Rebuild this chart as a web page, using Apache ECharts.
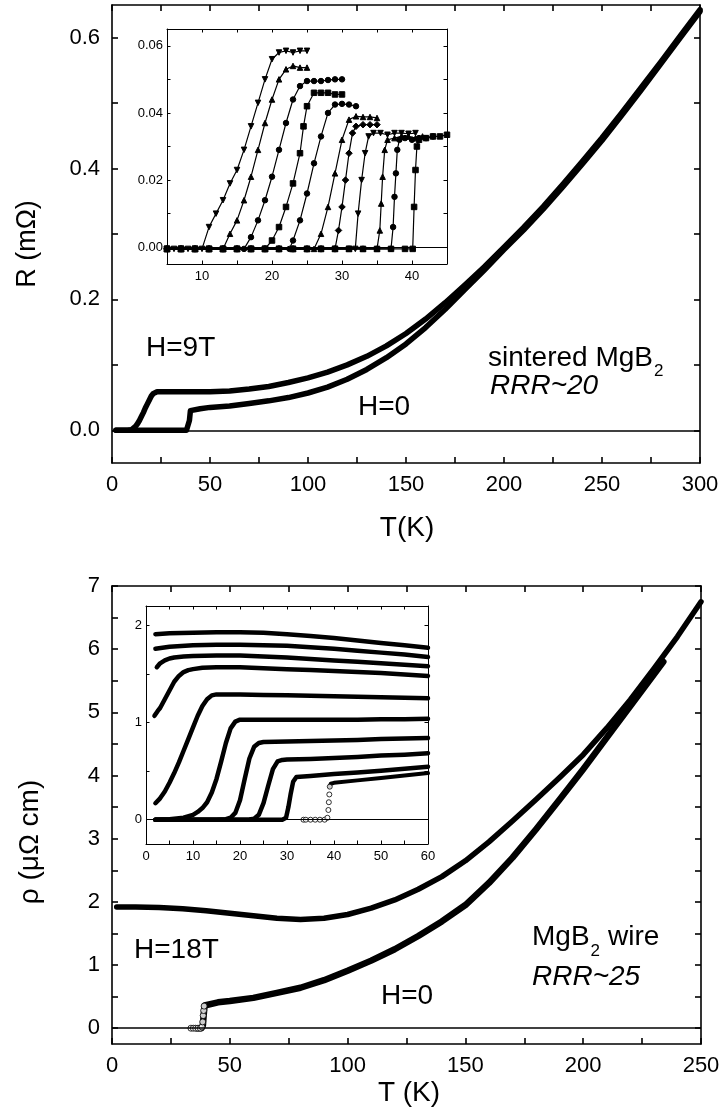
<!DOCTYPE html>
<html><head><meta charset="utf-8">
<script src="https://cdn.jsdelivr.net/npm/echarts@6/dist/echarts.min.js"></script>
<style>html,body{margin:0;padding:0;background:#fff}#c{width:723px;height:1116px}</style>
</head><body><div id="c"></div>
<script>
// ---------- TOP MAIN: sintered MgB2, R (mOhm) vs T (K) ----------
const topT_H0 = [2,5,10,15,20,25,30,35,38,39,39.5,40,41,45,50,60,70,80,90,100,110,120,130,140,150,160,170,180,190,200,210,220,230,240,250,260,270,280,290,300];
const topR_H0 = [0,0,0,0,0,0,0,0,0,0.001,0.015,0.030,0.032,0.033,0.035,0.037,0.041,0.045,0.050,0.057,0.066,0.078,0.093,0.111,0.132,0.157,0.185,0.215,0.245,0.276,0.306,0.338,0.372,0.407,0.443,0.481,0.520,0.560,0.600,0.640];
const topT_H9 = [2,5,8,10,11,12,13,14,15,16,17,18,19,20,21,22,23,25,30,40,50,60,70,80,90,100,110,120,130,140,150,160,170,180,190,200,210,220,230,240,250,260,270,280,290,300];
const topR_H9 = [0,0,0,0.001,0.003,0.006,0.010,0.015,0.021,0.027,0.034,0.040,0.046,0.052,0.056,0.058,0.059,0.059,0.059,0.059,0.059,0.060,0.063,0.067,0.073,0.080,0.089,0.100,0.113,0.129,0.148,0.170,0.195,0.222,0.250,0.280,0.310,0.342,0.376,0.411,0.447,0.485,0.524,0.563,0.603,0.643];

// ---------- TOP INSET: R (mOhm) vs T (K), 11 field curves ----------
const ti1T = [5,6,7,8,9,10,11,12,13,14,15,16,17,18,19,20,21,22,23,24,25];
const ti1R = [-0.0005,-0.0005,-0.0005,-0.0005,-0.0005,-0.0005,0.006,0.010,0.014,0.019,0.023,0.029,0.036,0.043,0.050,0.056,0.058,0.0585,0.058,0.0585,0.0585];
const ti2T = [5,7,9,11,13,14,15,16,17,18,19,20,21,22,23,24,25];
const ti2R = [-0.0005,-0.0005,-0.0005,-0.0005,-0.0005,0.004,0.008,0.014,0.021,0.029,0.037,0.044,0.050,0.053,0.054,0.0535,0.0535];
const ti3T = [5,7,9,11,13,15,16,17,18,19,20,21,22,23,24,25,26,27,28,29,30];
const ti3R = [-0.0005,-0.0005,-0.0005,-0.0005,-0.0005,-0.0005,-0.0005,0.003,0.008,0.014,0.021,0.029,0.037,0.044,0.048,0.0495,0.0495,0.0495,0.0498,0.050,0.050];
const ti4T = [5,7,9,11,13,15,17,19,20,21,22,23,24,24.5,25,26,27,28,29,30];
const ti4R = [-0.0005,-0.0005,-0.0005,-0.0005,-0.0005,-0.0005,-0.0005,-0.0005,0.002,0.006,0.012,0.019,0.028,0.036,0.042,0.046,0.046,0.046,0.0455,0.0455];
const ti5T = [5,7,9,11,13,15,17,19,21,22.5,23,24,25,26,27,28,29,30,31,32];
const ti5R = [-0.0005,-0.0005,-0.0005,-0.0005,-0.0005,-0.0005,-0.0005,-0.0005,-0.0005,-0.0005,0.002,0.008,0.016,0.025,0.033,0.040,0.0425,0.0427,0.0425,0.042];
const ti6T = [5,7,9,11,13,15,17,19,21,23,25,26,27,28,29,30,31,32,33,34,35];
const ti6R = [-0.0005,-0.0005,-0.0005,-0.0005,-0.0005,-0.0005,-0.0005,-0.0005,-0.0005,-0.0005,-0.0005,-0.0005,0.004,0.012,0.022,0.032,0.038,0.039,0.0388,0.0388,0.0385];
const ti7T = [5,7,9,11,13,15,17,19,21,23,25,27,29,29.5,30,30.5,31,31.5,32,33,34,35];
const ti7R = [-0.0005,-0.0005,-0.0005,-0.0005,-0.0005,-0.0005,-0.0005,-0.0005,-0.0005,-0.0005,-0.0005,-0.0005,-0.0005,0.005,0.012,0.020,0.028,0.034,0.036,0.0365,0.0365,0.0365];
const ti8T = [5,7,9,11,13,15,17,19,21,23,25,27,29,31,31.9,32.3,32.8,33.3,33.8,34.5,35.5,36.5,37.5,38.5,39.5,40.5];
const ti8R = [-0.0005,-0.0005,-0.0005,-0.0005,-0.0005,-0.0005,-0.0005,-0.0005,-0.0005,-0.0005,-0.0005,-0.0005,-0.0005,-0.0005,-0.0005,0.010,0.020,0.028,0.033,0.034,0.034,0.0335,0.034,0.034,0.0338,0.034];
const ti9T = [5,7,9,11,13,15,17,19,21,23,25,27,29,31,33,35,35.4,35.6,35.8,36.1,36.5,37.5,38.5,39.5,40.5,41.5];
const ti9R = [-0.0005,-0.0005,-0.0005,-0.0005,-0.0005,-0.0005,-0.0005,-0.0005,-0.0005,-0.0005,-0.0005,-0.0005,-0.0005,-0.0005,-0.0005,-0.0005,0.005,0.013,0.021,0.029,0.032,0.0325,0.033,0.033,0.0325,0.033];
const ti10T = [5,7,9,11,13,15,17,19,21,23,25,27,29,31,33,35,37,37.3,37.5,37.7,37.9,38.2,39,40,41,42,43];
const ti10R = [-0.0005,-0.0005,-0.0005,-0.0005,-0.0005,-0.0005,-0.0005,-0.0005,-0.0005,-0.0005,-0.0005,-0.0005,-0.0005,-0.0005,-0.0005,-0.0005,-0.0005,0.006,0.015,0.022,0.029,0.032,0.0325,0.032,0.0325,0.0325,0.033];
const ti11T = [5,7,9,11,13,15,17,19,21,23,25,27,29,31,33,35,37,39,40.1,40.3,40.5,40.7,41,42,43,44,45];
const ti11R = [-0.0005,-0.0005,-0.0005,-0.0005,-0.0005,-0.0005,-0.0005,-0.0005,-0.0005,-0.0005,-0.0005,-0.0005,-0.0005,-0.0005,-0.0005,-0.0005,-0.0005,-0.0005,-0.0005,0.012,0.023,0.030,0.032,0.0325,0.033,0.033,0.0335];

// ---------- BOTTOM MAIN: MgB2 wire, rho (uOhm cm) vs T (K) ----------
const botT_H0 = [36,37,38,38.6,38.9,39.3,40,45,50,60,70,80,90,100,110,120,130,140,150,160,170,180,190,200,210,220,234];
const botR_H0 = [0,0,0,0.05,0.2,0.36,0.39,0.41,0.43,0.48,0.56,0.64,0.76,0.91,1.07,1.25,1.46,1.69,1.95,2.3,2.7,3.15,3.62,4.1,4.6,5.1,5.8];
const botT_H0open = [33.5,34.5,35.5,36.5,37.5,38.2,38.5,38.7,38.9,39.1];
const botR_H0open = [0,0,0,0,0,0.02,0.1,0.2,0.28,0.35];
const botT_H18 = [2,10,20,30,40,50,60,70,80,90,100,110,120,130,140,150,160,170,180,190,200,210,220,230,240,250];
const botR_H18 = [1.92,1.92,1.91,1.89,1.86,1.82,1.78,1.74,1.72,1.74,1.8,1.9,2.03,2.2,2.4,2.65,2.95,3.28,3.62,3.97,4.33,4.75,5.2,5.69,6.2,6.75];

// ---------- BOTTOM INSET: rho vs T, 10 field curves ----------
const bi1T = [2,5,10,15,20,25,30,35,40,45,50,55,60];
const bi1R = [1.91,1.92,1.925,1.93,1.93,1.925,1.91,1.89,1.87,1.845,1.82,1.795,1.77];
const bi2T = [2,5,10,15,20,25,30,35,40,45,50,55,60];
const bi2R = [1.76,1.78,1.795,1.8,1.8,1.795,1.79,1.775,1.76,1.74,1.72,1.70,1.675];
const bi3T = [2.3,3,4,5,6,8,10,15,20,25,30,35,40,45,50,55,60];
const bi3R = [1.57,1.61,1.64,1.66,1.67,1.68,1.685,1.69,1.69,1.68,1.67,1.655,1.64,1.625,1.61,1.595,1.58];
const bi4T = [1.8,2.5,3,4,5,6,7,8,9,10,12,15,20,25,30,35,40,45,50,55,60];
const bi4R = [1.07,1.12,1.15,1.24,1.33,1.42,1.48,1.52,1.54,1.55,1.565,1.57,1.57,1.56,1.55,1.54,1.53,1.52,1.51,1.495,1.48];
const bi5T = [2,3,4,5,6,7,8,9,10,11,12,13,14,15,20,25,30,35,40,45,50,55,60];
const bi5R = [0.17,0.22,0.29,0.38,0.48,0.59,0.71,0.83,0.95,1.07,1.17,1.24,1.28,1.29,1.29,1.285,1.28,1.275,1.27,1.265,1.26,1.255,1.25];
const bi6T = [2,5,8,10,11,12,13,14,15,16,17,18,19,20,25,30,35,40,45,50,55,60];
const bi6R = [0,0.005,0.02,0.05,0.08,0.12,0.18,0.28,0.42,0.6,0.79,0.94,1.01,1.03,1.03,1.03,1.03,1.03,1.03,1.035,1.035,1.04];
const bi7T = [2,10,15,17,18,19,20,21,22,23,24,25,30,35,40,45,50,55,60];
const bi7R = [0,0,0,0.005,0.02,0.07,0.2,0.42,0.63,0.75,0.79,0.8,0.805,0.81,0.815,0.82,0.83,0.835,0.84];
const bi8T = [2,10,20,22,23,24,25,26,27,28,29,30,35,40,45,50,55,60];
const bi8R = [0,0,0,0.002,0.01,0.05,0.17,0.35,0.52,0.6,0.615,0.62,0.625,0.635,0.645,0.66,0.67,0.685];
const bi9T = [2,10,20,25,29,29.8,30.3,30.8,31.3,32,35,40,45,50,55,60];
const bi9R = [0,0,0,0,0,0.02,0.13,0.27,0.39,0.44,0.45,0.47,0.485,0.505,0.525,0.545];
const bi10T = [39.1,39.3,40,45,50,55,60];
const bi10R = [0.34,0.37,0.38,0.405,0.43,0.455,0.48];
const bi10openT = [33.5,34,35,36,37,38,38.6,38.8,38.9,39,39.1];
const bi10openR = [0,0,0,0,0,0,0.02,0.1,0.18,0.26,0.34];

// ---------- tick values / labels ----------
const topXTicks = [0,25,50,75,100,125,150,175,200,225,250,275,300];
const topXLabels = [0,50,100,150,200,250,300];
const topYTicks = [0,0.1,0.2,0.3,0.4,0.5,0.6];
const topYLabels = [0,0.2,0.4,0.6];
const tiXTicks = [10,15,20,25,30,35,40];
const tiXLabels = [10,20,30,40];
const tiYTicks = [0,0.01,0.02,0.03,0.04,0.05,0.06];
const tiYLabels = [0,0.02,0.04,0.06];
const botXTicks = [0,25,50,75,100,125,150,175,200,225,250];
const botXLabels = [0,50,100,150,200,250];
const botYTicks = [0,0.5,1,1.5,2,2.5,3,3.5,4,4.5,5,5.5,6,6.5,7];
const botYLabels = [0,1,2,3,4,5,6,7];
const biXTicks = [0,5,10,15,20,25,30,35,40,45,50,55,60];
const biXLabels = [0,10,20,30,40,50,60];
const biYTicks = [0,0.5,1,1.5,2];
const biYLabels = [0,1,2];

// ---------- build ----------
const FONT = '"Liberation Sans", Arial, Helvetica, sans-serif';
const zip = (a, b) => a.map((t, i) => [t, b[i]]);

function axis(gi, min, max, pos, ticks, labels, o) {
  return {
    type: 'value', gridIndex: gi, min: min, max: max, position: pos,
    axisLine: { show: true, onZero: false, lineStyle: { color: '#000', width: o.lw } },
    axisTick: { show: true, inside: true, length: o.tl, lineStyle: { color: '#000', width: o.lw }, customValues: ticks },
    axisLabel: { show: !!labels, customValues: labels || [], fontSize: o.fs, fontFamily: FONT, color: '#000', margin: o.margin, formatter: o.fmt },
    splitLine: { show: false }, minorTick: { show: false }
  };
}
const mainO = { lw: 1.6, tl: 6, fs: 22, margin: 11 };
const insO = { lw: 1, tl: 3.5, fs: 13, margin: 5 };
const ext = (a, b) => Object.assign({}, a, b);

const xAxis = [
  axis(0, 0, 300, 'bottom', topXTicks, topXLabels, ext(mainO, { fmt: v => String(v) })),
  axis(0, 0, 300, 'top', topXTicks, null, mainO),
  axis(1, 5, 45, 'bottom', tiXTicks, tiXLabels, ext(insO, { margin: 6, fmt: v => String(v) })),
  axis(1, 5, 45, 'top', tiXTicks, null, insO),
  axis(2, 0, 250, 'bottom', botXTicks, botXLabels, ext(mainO, { fmt: v => String(v) })),
  axis(2, 0, 250, 'top', botXTicks, null, mainO),
  axis(3, 0, 60, 'bottom', biXTicks, biXLabels, ext(insO, { margin: 6, fmt: v => String(v) })),
  axis(3, 0, 60, 'top', biXTicks, null, insO)
];
const yAxis = [
  axis(0, -0.05, 0.65, 'left', topYTicks, topYLabels, ext(mainO, { margin: 12, fmt: v => v.toFixed(1) })),
  axis(0, -0.05, 0.65, 'right', topYTicks, null, mainO),
  axis(1, -0.005, 0.065, 'left', tiYTicks, tiYLabels, ext(insO, { margin: 4, fmt: v => v.toFixed(2) })),
  axis(1, -0.005, 0.065, 'right', tiYTicks, null, insO),
  axis(2, -0.25, 7, 'left', botYTicks, botYLabels, ext(mainO, { margin: 12, fmt: v => String(Math.round(v)) })),
  axis(2, -0.25, 7, 'right', botYTicks, null, mainO),
  axis(3, -0.25, 2.2, 'left', biYTicks, biYLabels, ext(insO, { margin: 4, fmt: v => String(Math.round(v)) })),
  axis(3, -0.25, 2.2, 'right', biYTicks, null, insO)
];

const zeroLine = (w) => ({ silent: true, symbol: ['none', 'none'], label: { show: false }, animation: false,
  lineStyle: { color: '#000', width: w, type: 'solid' }, data: [{ yAxis: 0 }] });

function thick(xi, data, w, extra) {
  return Object.assign({ type: 'line', xAxisIndex: xi, yAxisIndex: xi, data: data, symbol: 'none', showSymbol: false,
    lineStyle: { color: '#000', width: w, cap: 'round', join: 'round' }, itemStyle: { color: '#000' }, silent: true, z: 3 }, extra || {});
}
function marked(xi, data, sym, rot, extra) {
  return Object.assign({ type: 'line', xAxisIndex: xi, yAxisIndex: xi, data: data, symbol: sym, symbolSize: 5.5, symbolRotate: rot || 0,
    showSymbol: true, showAllSymbol: true, lineStyle: { color: '#000', width: 1.2 }, itemStyle: { color: '#000', borderColor: '#000' }, silent: true, z: 3 }, extra || {});
}

const series = [
  thick(0, zip(topT_H0, topR_H0), 5.5, { markLine: zeroLine(1.6) }),
  thick(0, zip(topT_H9, topR_H9), 5.5),
  marked(2, zip(ti1T, ti1R), 'triangle', 180, { markLine: zeroLine(1) }),
  marked(2, zip(ti2T, ti2R), 'triangle'),
  marked(2, zip(ti3T, ti3R), 'circle'),
  marked(2, zip(ti4T, ti4R), 'rect'),
  marked(2, zip(ti5T, ti5R), 'circle'),
  marked(2, zip(ti6T, ti6R), 'triangle'),
  marked(2, zip(ti7T, ti7R), 'diamond', 0, { symbolSize: 6.5 }),
  marked(2, zip(ti8T, ti8R), 'triangle', 180),
  marked(2, zip(ti9T, ti9R), 'triangle'),
  marked(2, zip(ti10T, ti10R), 'circle'),
  marked(2, zip(ti11T, ti11R), 'rect'),
  thick(4, zip(botT_H18, botR_H18), 5.5, { markLine: zeroLine(1.6) }),
  thick(4, zip(botT_H0, botR_H0), 6.5),
  { type: 'scatter', xAxisIndex: 4, yAxisIndex: 4, data: zip(botT_H0open, botR_H0open), symbol: 'circle', symbolSize: 6,
    itemStyle: { color: '#fff', borderColor: '#000', borderWidth: 1 }, silent: true, z: 4 },
  thick(6, zip(bi1T, bi1R), 4.5, { markLine: zeroLine(1) }),
  thick(6, zip(bi2T, bi2R), 4.5),
  thick(6, zip(bi3T, bi3R), 4.5),
  thick(6, zip(bi4T, bi4R), 4.5),
  thick(6, zip(bi5T, bi5R), 4.5),
  thick(6, zip(bi6T, bi6R), 4.5),
  thick(6, zip(bi7T, bi7R), 4.5),
  thick(6, zip(bi8T, bi8R), 4.5),
  thick(6, zip(bi9T, bi9R), 4.5),
  thick(6, zip(bi10T, bi10R), 4),
  { type: 'scatter', xAxisIndex: 6, yAxisIndex: 6, data: zip(bi10openT, bi10openR), symbol: 'circle', symbolSize: 5,
    itemStyle: { color: '#fff', borderColor: '#000', borderWidth: 1 }, silent: true, z: 4 }
];

// text measuring for subscripts
const mctx = document.createElement('canvas').getContext('2d');
function tw(t, font) { mctx.font = font; return mctx.measureText(t).width; }
const F28 = '28px ' + FONT;
const txt = (text, x, y, size, extra) => ({ type: 'text', x: x, y: y, z: 10, silent: true,
  style: Object.assign({ text: text, font: size + 'px ' + FONT, fill: '#000', align: 'left', verticalAlign: 'middle' }, extra || {}) });

const w1 = tw('sintered MgB', F28);
const w2 = tw('MgB', F28);
const graphic = [
  txt('H=9T', 146, 348, 28),
  txt('sintered MgB', 488, 358, 28),
  txt('2', 488 + w1 + 1, 371, 17),
  txt('RRR~20', 490, 386, 28, { font: 'italic 28px ' + FONT }),
  txt('H=0', 358, 407, 28),
  txt('T(K)', 407, 528, 28, { align: 'center' }),
  { type: 'text', x: 28, y: 244, rotation: Math.PI / 2, z: 10, silent: true,
    style: { text: 'R (mΩ)', font: '27px ' + FONT, fill: '#000', align: 'center', verticalAlign: 'middle' } },
  txt('H=18T', 134, 950, 28),
  txt('MgB', 532, 937, 28),
  txt('2', 532 + w2 + 1, 951, 17),
  txt('wire', 532 + w2 + 1 + tw('2', '17px ' + FONT) + 8, 937, 28),
  txt('RRR~25', 532, 977, 28, { font: 'italic 28px ' + FONT }),
  txt('H=0', 381, 996, 28),
  txt('T (K)', 409, 1093, 28, { align: 'center' }),
  { type: 'text', x: 30, y: 842, rotation: Math.PI / 2, z: 10, silent: true,
    style: { text: 'ρ (μΩ cm)', font: '28px ' + FONT, fill: '#000', align: 'center', verticalAlign: 'middle' } }
];

const chart = echarts.init(document.getElementById('c'), null, { renderer: 'canvas' });
chart.setOption({
  animation: false,
  backgroundColor: '#fff',
  grid: [
    { left: 112, top: 5, width: 588, height: 458 },
    { left: 167, top: 29, width: 280, height: 235 },
    { left: 112, top: 586, width: 589, height: 458 },
    { left: 146, top: 606, width: 282, height: 238 }
  ],
  xAxis: xAxis,
  yAxis: yAxis,
  series: series,
  graphic: graphic
});
</script></body></html>
